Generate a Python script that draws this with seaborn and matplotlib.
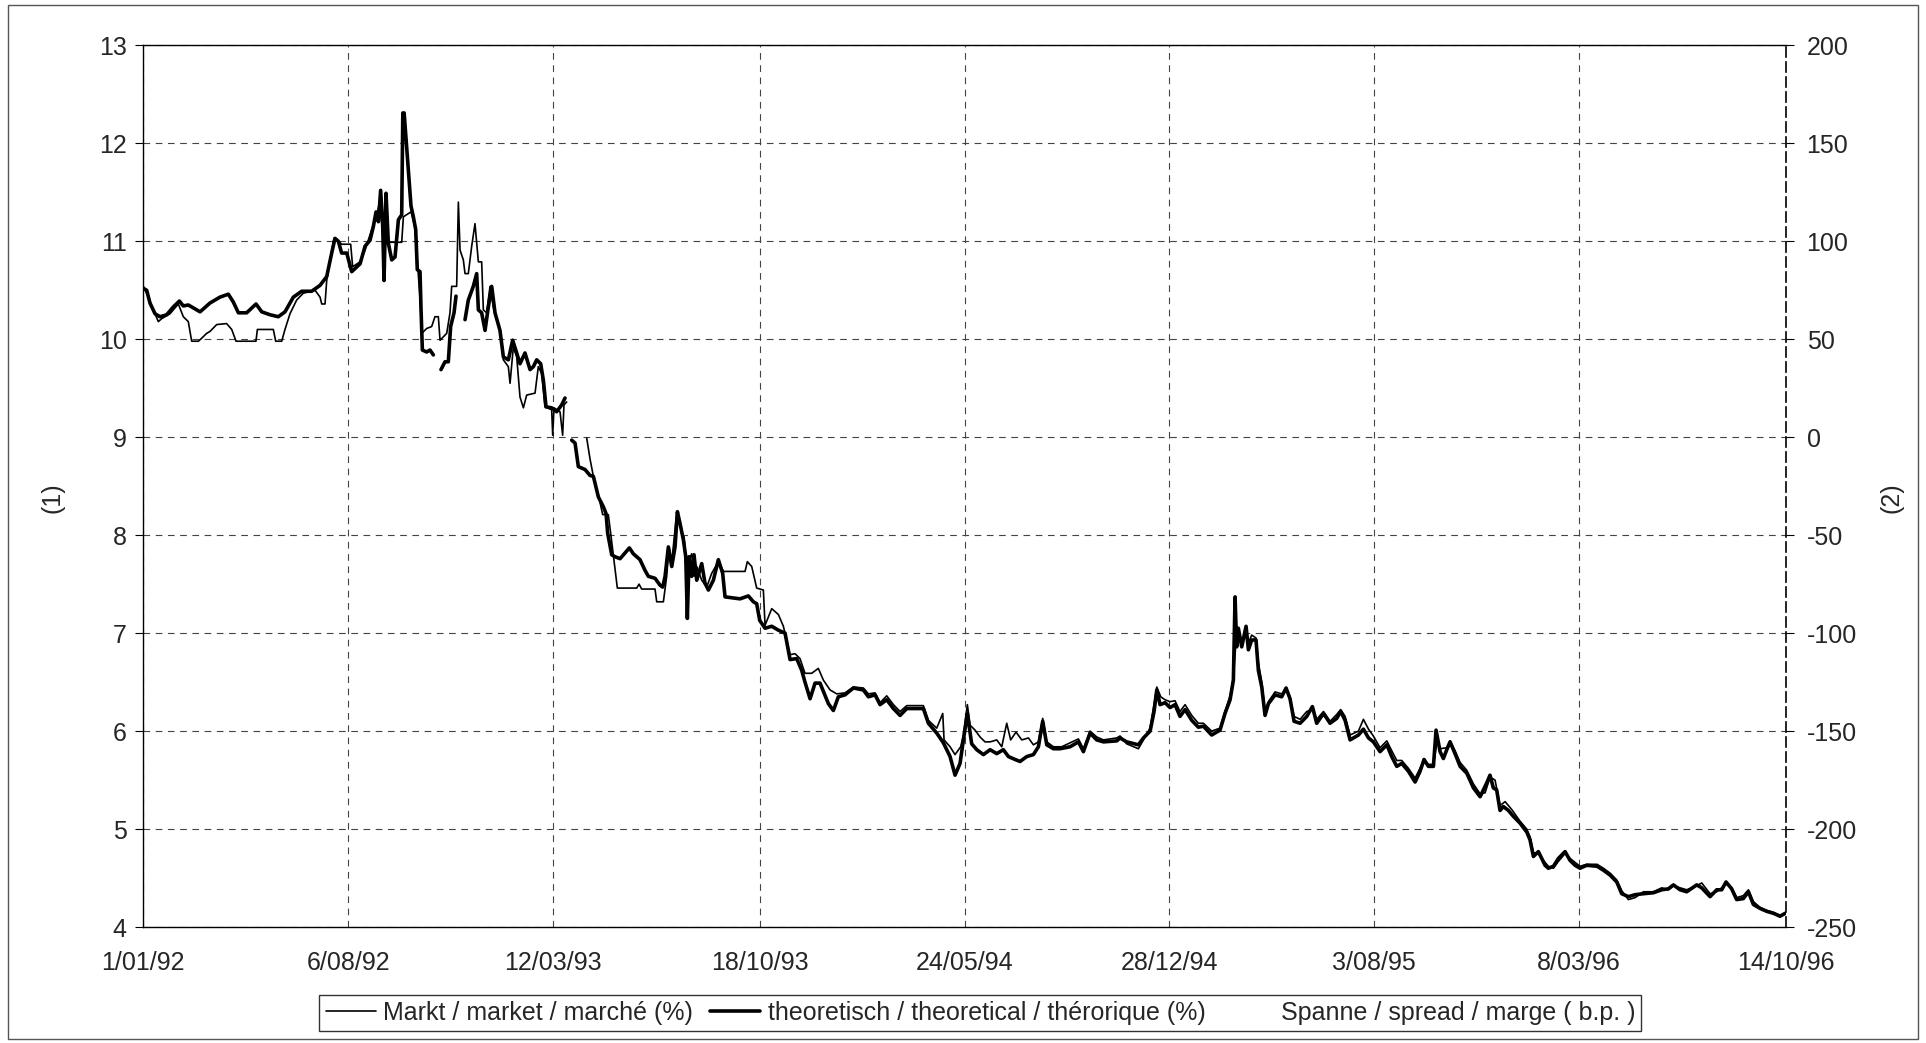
import numpy as np
import pandas as pd
import matplotlib
matplotlib.use("Agg")
from matplotlib import pyplot as plt
from matplotlib.lines import Line2D
from matplotlib.patches import Rectangle
import seaborn as sns

nan = np.nan
start = pd.Timestamp("1992-01-01")

tick_labels = ["1/01/92", "6/08/92", "12/03/93", "18/10/93", "24/05/94",
               "28/12/94", "3/08/95", "8/03/96", "14/10/96"]
left_ticks = list(range(4, 14))
right_ticks = list(range(-250, 201, 50))

# theoretisch (dikke lijn): dagen sinds 1/01/92 en rendement in %
th_days = [0, 3.6, 7.1, 12.5, 17.8, 24.9, 32.0, 38.4, 42.6, 47.9, 60.4, 71.0, 81.6, 90.5, 95.8,
           101.2, 110.0, 120.0, 126.0, 134.9, 143.7, 150.8, 159.7, 168.6, 179.2, 188.1, 195.2,
           200.5, 204, 207.6, 211.1, 216.5, 221.8, 230.7, 236, 241.3, 244.8, 247.7, 250.2, 252.6,
           254.8, 256.2, 258.3, 260.8, 264.4, 267.9, 271.5, 275, 276.2, 277.6, 284.9, 287.4, 289.9,
           291.6, 294.5, 295.5, 297, 301.6, 305.1, 308.7, nan,
           316.8, 321.1, 324.6, 327.1, 330.7, 332.8, nan,
           342.4, 345.9, 351.2, 354.8, 356.6, 360.1, 363.7, 367.2, 370.8, 374.3, 379.6, 383.2,
           388.5, 393.1, 397.4, 400.9, 406.2, 411.6, 415.1, 418.7, 422.9, 425.8, 428.6, 434.6,
           439.9, 445.3, 448.8, nan,
           455.9, 459.5, 463, 470.1, 475.4, 479, 484.3, 489.6, 492.5, 494.2, 498.5, 502, 507.4,
           517.3, 521.5, 528.6, 534, 537.5, 544.6, 549.9, 552.8, 555.3, 558.8, 562.4, 565.9, 568.4,
           571.2, 574.8, 577.3, 579, 580.8, 583.6, 586.1, 589, 594.3, 597.8, 601.4, 606.7, 612,
           616.6, 619.1, 635.1, 643.9, 649.3, 652.8, 656, 661.7, 668.8, 675.9, 683, 688.3, 695.4,
           700.7, 704.2, 709.6, 714.9, 720.2, 729.1, 734.4, 739.7, 746.8, 755.7, 766.3, 771.7,
           778.8, 784.1, 791.2, 798.3, 805.4, 812.5, 823.1, 830.2, 835.5, 844.4, 851.5, 858.6,
           863.9, 869.2, 872.8, 877, 881.6, 887, 894.1, 901.2, 908.3, 915.3, 920.7, 927.8, 933.1,
           940.2, 947.3, 952.6, 957.2, 961.5, 968.6, 975.7, 986.3, 995.2, 1000.5, 1007.6, 1014.7,
           1021.8, 1036, 1039.5, 1046.6, 1059, 1064.4, 1071.5, 1075.7, 1078.6, 1082.1, 1087.4,
           1092.7, 1098, 1103.3, 1108.7, 1115.8, 1122.8, 1128.2, 1137, 1145.9, 1151.2, 1156.6,
           1160.1, 1161.9, 1163.6, 1165.4, 1169, 1173.6, 1176.1, 1179.6, 1184.2, 1186.7, 1190.3,
           1193.8, 1197.4, 1204.5, 1211.5, 1216.2, 1220.4, 1224.7, 1231.1, 1238.2, 1244.2, 1248.8,
           1256, 1263, 1270.1, 1274.3, 1279, 1284.3, 1293.2, 1298.5, 1303.9, 1309.1, 1316.2,
           1323.4, 1328.6, 1334, 1339.3, 1346.4, 1353.5, 1358.8, 1363, 1367.7, 1373, 1375.8,
           1380.1, 1383.6, 1387.2, 1390.7, 1396, 1401.4, 1408.5, 1415.6, 1422.7, 1429.7, 1433.2,
           1436.8, 1440.3, 1443.9, 1447.4, 1452.8, 1458.1, 1465.2, 1472.3, 1475.8, 1479.4, 1484.7,
           1488.2, 1491.8, 1495.3, 1500.7, 1506, 1513.1, 1518.4, 1523.7, 1529, 1536.1, 1547.2,
           1553.9, 1561, 1568.1, 1573.4, 1580.5, 1587.6, 1596.5, 1607.1, 1616, 1623.1, 1628.4,
           1635.5, 1642.6, 1653.2, 1658.5, 1667.4, 1674.5, 1679.8, 1684.4, 1690.4, 1695.7, 1702.8,
           1708.2, 1713.5, 1720.6, 1727.7, 1734.8, 1741.9, 1747.3]
th_vals = [10.52, 10.50, 10.37, 10.26, 10.23, 10.25, 10.33, 10.39, 10.34, 10.35, 10.28, 10.37,
           10.43, 10.46, 10.38, 10.27, 10.27, 10.36, 10.28, 10.25, 10.23, 10.28, 10.43, 10.49,
           10.49, 10.55, 10.64, 10.88, 11.03, 11.00, 10.88, 10.88, 10.69, 10.77, 10.95, 11.01,
           11.15, 11.30, 11.20, 11.52, 11.15, 10.60, 11.49, 10.98, 10.81, 10.84, 11.22, 11.27,
           12.31, 12.31, 11.36, 11.25, 11.12, 10.71, 10.69, 10.33, 9.89, 9.87, 9.89, 9.84, nan,
           9.69, 9.77, 9.77, 10.13, 10.27, 10.44, nan,
           10.20, 10.40, 10.54, 10.67, 10.30, 10.27, 10.09, 10.33, 10.54, 10.27, 10.09, 9.82,
           9.79, 9.99, 9.86, 9.75, 9.86, 9.69, 9.72, 9.79, 9.75, 9.58, 9.31, 9.30, 9.26, 9.33,
           9.40, nan,
           8.97, 8.94, 8.70, 8.67, 8.61, 8.60, 8.39, 8.29, 8.22, 8.02, 7.80, 7.78, 7.76, 7.87,
           7.81, 7.75, 7.64, 7.58, 7.56, 7.49, 7.47, 7.58, 7.88, 7.68, 7.88, 8.24, 8.12, 7.95,
           7.78, 7.15, 7.78, 7.58, 7.80, 7.54, 7.71, 7.51, 7.44, 7.54, 7.75, 7.61, 7.37, 7.35,
           7.38, 7.32, 7.30, 7.13, 7.05, 7.07, 7.03, 7.00, 6.73, 6.74, 6.62, 6.50, 6.33, 6.49,
           6.49, 6.28, 6.21, 6.35, 6.37, 6.44, 6.42, 6.35, 6.37, 6.27, 6.32, 6.23, 6.16, 6.23,
           6.23, 6.23, 6.08, 5.98, 5.88, 5.74, 5.55, 5.67, 5.91, 6.18, 5.87, 5.81, 5.76, 5.81,
           5.77, 5.81, 5.74, 5.71, 5.69, 5.74, 5.76, 5.84, 6.10, 5.86, 5.82, 5.82, 5.84, 5.89,
           5.79, 5.98, 5.91, 5.89, 5.90, 5.93, 5.89, 5.86, 5.93, 6.00, 6.20, 6.42, 6.27, 6.29,
           6.24, 6.27, 6.15, 6.22, 6.11, 6.04, 6.05, 5.96, 6.01, 6.18, 6.32, 6.52, 7.37, 6.86,
           7.05, 6.86, 7.07, 6.83, 6.93, 6.93, 6.62, 6.45, 6.16, 6.28, 6.37, 6.35, 6.44, 6.33,
           6.10, 6.08, 6.15, 6.25, 6.08, 6.18, 6.08, 6.13, 6.20, 6.11, 5.91, 5.96, 6.02, 5.93,
           5.89, 5.79, 5.86, 5.74, 5.64, 5.67, 5.59, 5.48, 5.59, 5.71, 5.64, 5.64, 6.01, 5.79,
           5.72, 5.81, 5.89, 5.77, 5.64, 5.57, 5.42, 5.33, 5.47, 5.55, 5.42, 5.40, 5.19, 5.23,
           5.19, 5.13, 5.06, 4.97, 4.89, 4.72, 4.77, 4.70, 4.63, 4.60, 4.62, 4.70, 4.77, 4.68,
           4.63, 4.60, 4.63, 4.62, 4.58, 4.53, 4.46, 4.34, 4.31, 4.33, 4.34, 4.35, 4.38, 4.39,
           4.43, 4.38, 4.36, 4.43, 4.40, 4.31, 4.38, 4.38, 4.46, 4.39, 4.28, 4.29, 4.36, 4.23,
           4.19, 4.16, 4.14, 4.11, 4.14]

# Markt (dunne lijn)
mk_days = [0, 3.6, 10.7, 16.0, 19.5, 28.4, 37.3, 42.6, 47.9, 51.5, 58.6, 62.1, 67.4, 71.0, 78.1,
           88.7, 94.1, 98.7, 119.9, 121.4, 138.4, 140.9, 147.3, 150.8, 156.1, 163.2, 170.3, 182.8,
           188.1, 189.9, 193.4, 195.2, 198.7, 203.0, 205.8, 211.1, 220.7, 222.8, 230.7, 236, 243.1,
           248.4, 252.6, 255.5, 258.3, 260.8, 262.6, 275, 276.8, 280, 285, 289, 292, 295, 296.3,
           301.6, 306.9, 310.4, 314, 315.8, 322.9, 326.4, 328.2, 333.5, 335.3, 337.1, 340.6, 342.4,
           345.9, 349.5, 353, 356.6, 360.1, 361.9, 365.4, 369, 372.5, 376.1, 379.6, 383.2, 388.5,
           390.3, 393.8, 397.4, 400.9, 404.5, 408, 416.9, 420.4, 424, 427.5, 434.6, 435.7, 437.1,
           443.5, 446.3, 447.7, 450.6, nan,
           471.9, 475.4, 479, 484.3, 488.9, 494.9, 497.4, 504.5, 525.1, 527.6, 530.4, 544.6, 546.4,
           553.5, 557, 559.5, 562.4, 567.7, 570.5, 573, 575.5, 578.3, 581.1, 583.6, 586.1, 589,
           594.3, 599.6, 604.9, 612, 617.4, 640.4, 642.9, 647.5, 652.8, 659.9, 661.7, 668.8, 675.9,
           681.2, 688.3, 693.6, 698.9, 704.2, 711.3, 718.4, 723.8, 730.9, 738, 746.8, 755.7, 766.3,
           771.7, 778.8, 784.1, 791.2, 798.3, 805.4, 812.5, 830.2, 835.5, 844.4, 850.8, 852.2,
           858.6, 863.9, 869.9, 872.8, 877, 879.9, 885.2, 890.5, 895.8, 901.2, 908.3, 913.6, 918.9,
           923.1, 928.8, 934.9, 942, 947.3, 952.6, 957.2, 961.5, 968.6, 977.4, 986.3, 995.2,
           1000.5, 1007.6, 1014.7, 1021.8, 1036, 1039.5, 1046.6, 1059, 1064.4, 1071.5, 1075.7,
           1078.6, 1082.8, 1087.4, 1092.7, 1098, 1103.3, 1108.7, 1115.8, 1122.8, 1128.2, 1137,
           1145.9, 1151.2, 1156.6, 1160.1, 1163.6, 1165.4, 1169, 1173.6, 1176.1, 1179.6, 1184.2,
           1186.7, 1190.3, 1193.8, 1197.4, 1204.5, 1211.5, 1216.2, 1220.4, 1224.7, 1231.1, 1238.2,
           1244.2, 1248.8, 1256, 1263, 1270.1, 1274.3, 1279, 1284.3, 1293.2, 1298.5, 1303.9,
           1309.1, 1316.2, 1323.4, 1328.6, 1334, 1339.3, 1346.4, 1353.5, 1358.8, 1363, 1367.7,
           1373, 1377, 1380.1, 1387.2, 1390.7, 1396, 1401.4, 1408.5, 1415.6, 1422.7, 1428, 1433.3,
           1438.6, 1443.9, 1449.3, 1456.3, 1465.2, 1472.3, 1475.8, 1479.4, 1484.7, 1491.8, 1495.3,
           1500.7, 1506, 1513.1, 1518.4, 1529, 1536.1, 1547.2, 1553.9, 1561, 1568.1, 1573.4,
           1580.5, 1587.6, 1596.5, 1607.1, 1616, 1623.1, 1628.4, 1635.5, 1642.6, 1653.2, 1658.5,
           1667.4, 1674.5, 1679.8, 1684.4, 1690.4, 1695.7, 1702.8, 1708.2, 1713.5, 1720.6, 1727.7,
           1734.8, 1741.9, 1747.3]
mk_vals = [10.54, 10.47, 10.30, 10.18, 10.21, 10.26, 10.36, 10.23, 10.18, 9.98, 9.98, 10.01,
           10.06, 10.08, 10.15, 10.16, 10.10, 9.98, 9.98, 10.10, 10.10, 9.98, 9.98, 10.10, 10.26,
           10.40, 10.47, 10.50, 10.43, 10.36, 10.36, 10.60, 10.81, 11.03, 11.02, 10.97, 10.97,
           10.74, 10.79, 10.91, 11.12, 11.25, 11.46, 11.08, 11.42, 10.98, 10.99, 10.99, 11.25,
           11.27, 11.30, 11.15, 10.75, 10.35, 10.06, 10.11, 10.13, 10.23, 10.23, 9.99, 10.06,
           10.27, 10.54, 10.54, 11.40, 10.91, 10.81, 10.67, 10.67, 10.95, 11.18, 10.79, 10.79,
           10.30, 10.27, 10.54, 10.33, 10.20, 10.09, 9.79, 9.72, 9.55, 9.92, 9.82, 9.41, 9.30,
           9.43, 9.45, 9.72, 9.65, 9.31, 9.28, 9.02, 9.30, 9.26, 9.02, 9.33, 9.36, nan,
           8.99, 8.78, 8.60, 8.41, 8.21, 8.21, 8.02, 7.46, 7.46, 7.50, 7.45, 7.45, 7.32, 7.32,
           7.58, 7.88, 7.73, 8.22, 8.15, 8.02, 7.98, 7.68, 7.75, 7.81, 7.58, 7.68, 7.54, 7.47,
           7.61, 7.73, 7.63, 7.63, 7.73, 7.68, 7.46, 7.44, 7.08, 7.25, 7.19, 7.07, 6.78, 6.79,
           6.74, 6.59, 6.59, 6.64, 6.52, 6.42, 6.38, 6.39, 6.45, 6.44, 6.38, 6.39, 6.29, 6.36,
           6.27, 6.20, 6.26, 6.26, 6.11, 6.03, 6.18, 5.91, 5.84, 5.76, 5.84, 5.96, 6.27, 6.06,
           6.01, 5.94, 5.89, 5.89, 5.91, 5.84, 6.08, 5.91, 5.99, 5.91, 5.93, 5.86, 5.89, 6.13,
           5.89, 5.84, 5.84, 5.88, 5.92, 5.82, 6.00, 5.94, 5.91, 5.93, 5.95, 5.87, 5.82, 5.91,
           6.03, 6.28, 6.45, 6.35, 6.32, 6.30, 6.31, 6.20, 6.27, 6.16, 6.08, 6.08, 6.00, 6.03,
           6.20, 6.36, 6.55, 7.00, 7.02, 6.92, 7.00, 6.90, 6.98, 6.95, 6.70, 6.50, 6.20, 6.30,
           6.40, 6.38, 6.42, 6.35, 6.15, 6.12, 6.20, 6.22, 6.12, 6.20, 6.10, 6.17, 6.22, 6.15,
           5.96, 6.00, 6.12, 6.02, 5.95, 5.83, 5.90, 5.80, 5.70, 5.70, 5.62, 5.52, 5.62, 5.70,
           5.66, 5.66, 5.90, 5.82, 5.83, 5.90, 5.80, 5.68, 5.60, 5.46, 5.36, 5.37, 5.53, 5.50,
           5.24, 5.28, 5.20, 5.08, 5.00, 4.92, 4.76, 4.75, 4.66, 4.62, 4.60, 4.67, 4.75, 4.70,
           4.62, 4.64, 4.64, 4.60, 4.55, 4.48, 4.37, 4.28, 4.30, 4.36, 4.36, 4.40, 4.38, 4.42,
           4.40, 4.38, 4.42, 4.45, 4.34, 4.36, 4.40, 4.44, 4.40, 4.30, 4.32, 4.38, 4.26, 4.20,
           4.17, 4.15, 4.12, 4.13]


def to_frame(days, vals):
    df = pd.DataFrame({"day": days, "val": vals})
    df["seg"] = df["val"].isna().cumsum()   # gaten in de reeks -> aparte stukken
    df = df.dropna()
    df["date"] = start + pd.to_timedelta(df["day"], unit="D")
    return df


df_th = to_frame(th_days, th_vals)
df_mk = to_frame(mk_days, mk_vals)

sns.set_style("white")
plt.rcParams["font.family"] = ["Liberation Sans", "DejaVu Sans"]
plt.rcParams["axes.unicode_minus"] = False

fs = 18
fig = plt.figure(figsize=(19.26, 10.43), dpi=100)
ax = fig.add_axes([0.0744, 0.1112, 0.8528, 0.8453])

sns.lineplot(data=df_mk, x="date", y="val", units="seg", estimator=None, sort=False,
             color="black", lw=1.2, ax=ax, legend=False)
sns.lineplot(data=df_th, x="date", y="val", units="seg", estimator=None, sort=False,
             color="black", lw=2.6, ax=ax, legend=False)

tick_dates = pd.to_datetime(tick_labels, format="%d/%m/%y")
ax.set_xlim(tick_dates[0], tick_dates[-1])
ax.set_xticks(tick_dates)
ax.set_xticklabels(tick_labels)
ax.set_ylim(4, 13)
ax.set_yticks(left_ticks)
ax.set_xlabel("")
ax.set_ylabel("")

grid_style = dict(linestyle=(0, (6, 5)), color="#444444", lw=0.8)
ax.grid(True, **grid_style)
for side in ["left", "bottom", "top"]:
    ax.spines[side].set_color("black")
    ax.spines[side].set_linewidth(1.0)
ax.spines["right"].set_visible(False)
ax.tick_params(axis="x", direction="out", length=5, pad=12, labelsize=fs, color="black")
ax.tick_params(axis="y", direction="out", length=6, pad=6, labelsize=fs, color="black", left=True)

# rechteras: spread in basispunten
ax2 = ax.twinx()
ax2.set_ylim(-250, 200)
ax2.set_yticks(right_ticks)
ax2.grid(False)
for side in ["left", "bottom", "top"]:
    ax2.spines[side].set_visible(False)
ax2.spines["right"].set_linestyle((0, (6, 3)))
ax2.spines["right"].set_linewidth(1.2)
ax2.spines["right"].set_color("black")
ax2.tick_params(axis="y", direction="out", length=6, pad=9, labelsize=fs, color="black", right=True)

fig.text(0.027, 0.523, "(1)", rotation=90, ha="center", va="center", fontsize=fs)
fig.text(0.982, 0.523, "(2)", rotation=90, ha="center", va="center", fontsize=fs)

handles = [Line2D([], [], color="black", lw=1.2),
           Line2D([], [], color="black", lw=2.6),
           Line2D([], [], color="white", lw=1.2)]
labels = ["Markt / market / marché (%)",
          "theoretisch / theoretical / thérorique (%)",
          "Spanne / spread / marge ( b.p. )"]
leg = fig.legend(handles, labels, loc="center", bbox_to_anchor=(0.509, 0.029), ncol=3,
                 frameon=True, fancybox=False, edgecolor="black", fontsize=fs,
                 handlelength=2.0, handletextpad=0.3, columnspacing=0.7, borderpad=0.25)
leg.get_frame().set_linewidth(1.0)

fig.patches.append(Rectangle((0.004, 0.004), 0.992, 0.991, transform=fig.transFigure,
                             fill=False, ec="#555555", lw=1.0))

fig.savefig("out.png", dpi=100)
